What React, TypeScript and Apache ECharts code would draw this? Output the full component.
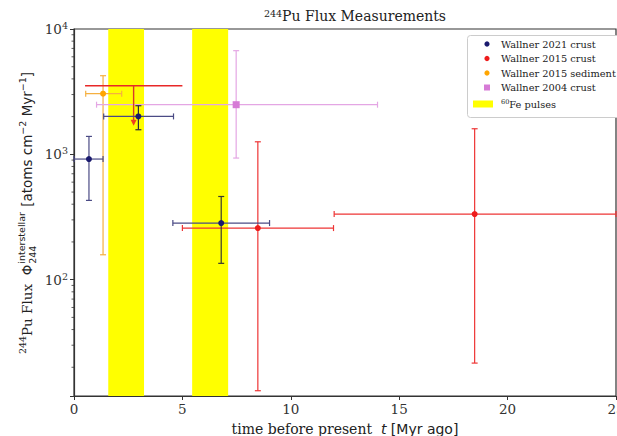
import React, { useEffect, useRef } from 'react';
import * as echarts from 'echarts';

// ---- data ----
const xTickValues = [0, 5, 10, 15, 20, 25];
const yTickExponents = [2, 3, 4];
const minorTickValues = [20, 30, 40, 50, 60, 70, 80, 90, 200, 300, 400, 500, 600, 700, 800, 900, 2000, 3000, 4000, 5000, 6000, 7000, 8000, 9000];

// Wallner 2021 crust
const w21X = [0.69, 2.97, 6.79];
const w21Y = [917, 2007, 283];
const w21XLo = [0, 1.37, 4.56];
const w21XHi = [1.34, 4.59, 9.02];
const w21YLo = [429, 1571, 135];
const w21YHi = [1390, 2443, 461];

// Wallner 2015 crust
const w15X = [8.48, 18.48];
const w15Y = [258, 334];
const w15XLo = [5.0, 12.0];
const w15XHi = [11.97, 25];
const w15YLo = [13.0, 21.6];
const w15YHi = [1259, 1600];

// Wallner 2015 crust upper limit
const w15LimX = [2.75];
const w15LimY = [3528];
const w15LimXLo = [0.51];
const w15LimXHi = [5.0];
const w15LimArrowTo = [1690];

// Wallner 2015 sediment
const w15sX = [1.34];
const w15sY = [3048];
const w15sXLo = [0.54];
const w15sXHi = [2.2];
const w15sYLo = [158];
const w15sYHi = [4240];

// Wallner 2004 crust
const w04X = [7.48];
const w04Y = [2489];
const w04XLo = [1.04];
const w04XHi = [14.0];
const w04YLo = [934];
const w04YHi = [6714];

// 60Fe pulses
const pulseStart = [1.58, 5.45];
const pulseEnd = [3.23, 7.11];

const legendNames = ['Wallner 2021 crust', 'Wallner 2015 crust', 'Wallner 2015 sediment', 'Wallner 2004 crust'];

const SERIF = 'DejaVu Serif';
const SANS = 'DejaVu Sans';

function ln(x1: number, y1: number, x2: number, y2: number, stroke: string, w = 1.2) {
  return { type: 'line', shape: { x1, y1, x2, y2 }, style: { stroke, lineWidth: w } };
}

function errorSeries(name: string, xs: number[], ys: number[], xlo: number[], xhi: number[], ylo: number[], yhi: number[], st: any) {
  const data = xs.map((x, i) => [x, ys[i], xlo[i], xhi[i], ylo[i], yhi[i]]);
  return {
    type: 'custom',
    name,
    data,
    z: 5,
    encode: { x: 0, y: 1 },
    renderItem: (params: any, api: any) => {
      const x = api.value(0), y = api.value(1);
      const c = api.coord([x, y]);
      const l = api.coord([api.value(2), y]);
      const r = api.coord([api.value(3), y]);
      const t = api.coord([x, api.value(5)]);
      const b = api.coord([x, api.value(4)]);
      const cap = 3;
      const yc = st.yColors ? st.yColors[params.dataIndex] : st.yColor;
      const children: any[] = [
        ln(l[0], c[1], r[0], c[1], st.xColor),
        ln(l[0], c[1] - cap, l[0], c[1] + cap, st.xColor),
        ln(r[0], c[1] - cap, r[0], c[1] + cap, st.xColor),
        ln(c[0], t[1], c[0], b[1], yc),
        ln(c[0] - cap, t[1], c[0] + cap, t[1], yc),
        ln(c[0] - cap, b[1], c[0] + cap, b[1], yc),
      ];
      if (st.square) {
        children.push({ type: 'rect', shape: { x: c[0] - 3.5, y: c[1] - 3.5, width: 7, height: 7 }, style: { fill: st.marker } });
      } else {
        children.push({ type: 'circle', shape: { cx: c[0], cy: c[1], r: 3 }, style: { fill: st.marker } });
      }
      return { type: 'group', children };
    },
  };
}

function measure(text: string, font: string) {
  const cv = document.createElement('canvas');
  const ctx = cv.getContext('2d')!;
  ctx.font = font;
  return ctx.measureText(text).width;
}

function buildYLabel(cx: number, cy: number) {
  type P = { text: string; size: number; fam: string; dy: number; stack?: { text: string; dy: number }[] };
  const pieces: P[] = [
    { text: '244', size: 9.5, fam: SERIF, dy: -5 },
    { text: 'Pu Flux  ', size: 13.5, fam: SERIF, dy: 0 },
    { text: 'Φ', size: 13.5, fam: SANS, dy: 0 },
    { text: '', size: 9.5, fam: SANS, dy: 0, stack: [{ text: 'interstellar', dy: -6 }, { text: '244', dy: 5 }] },
    { text: ' [atoms cm', size: 13.5, fam: SANS, dy: 0 },
    { text: '−2', size: 9.5, fam: SANS, dy: -5 },
    { text: ' Myr', size: 13.5, fam: SANS, dy: 0 },
    { text: '−1', size: 9.5, fam: SANS, dy: -5 },
    { text: ']', size: 13.5, fam: SANS, dy: 0 },
  ];
  const widths = pieces.map((p) => {
    const font = `${p.size}px "${p.fam}"`;
    if (p.stack) return Math.max(...p.stack.map((s) => measure(s.text, font))) + 2;
    return measure(p.text, font);
  });
  const total = widths.reduce((a, b) => a + b, 0);
  let x = -total / 2;
  const children: any[] = [];
  pieces.forEach((p, i) => {
    if (p.stack) {
      p.stack.forEach((s) => {
        children.push({ type: 'text', x: x + 1, y: s.dy, style: { text: s.text, fontSize: p.size, fontFamily: p.fam, fill: '#222', verticalAlign: 'middle' } });
      });
    } else {
      children.push({ type: 'text', x, y: p.dy, style: { text: p.text, fontSize: p.size, fontFamily: p.fam, fill: '#222', verticalAlign: 'middle' } });
    }
    x += widths[i];
  });
  return { type: 'group', x: cx, y: cy, rotation: Math.PI / 2, children };
}

export default function App() {
  const ref = useRef<HTMLDivElement>(null);
  useEffect(() => {
    if (!ref.current) return;
    const chart = echarts.init(ref.current, undefined, { renderer: 'svg' });

    const legendRows = [44, 58.5, 73, 87.5, 104];
    const legendColors = ['#1a1a6e', '#ee1c1c', '#ffa500', '#d67bd6'];
    const legendGraphic: any[] = [
      { type: 'rect', shape: { x: 467.5, y: 35.5, width: 160, height: 82, r: 3 }, style: { fill: '#fff', stroke: '#cccccc', lineWidth: 1 }, z: 100 },
    ];
    legendNames.forEach((n, i) => {
      if (i === 3) {
        legendGraphic.push({ type: 'rect', shape: { x: 484, y: legendRows[i] - 3, width: 6, height: 6 }, style: { fill: legendColors[i] }, z: 101 });
      } else {
        legendGraphic.push({ type: 'circle', shape: { cx: 487, cy: legendRows[i], r: 2.6 }, style: { fill: legendColors[i] }, z: 101 });
      }
      legendGraphic.push({ type: 'text', x: 501, y: legendRows[i], style: { text: n, fontSize: 9.8, fontFamily: SERIF, fill: '#222', verticalAlign: 'middle' }, z: 101 });
    });
    legendGraphic.push({ type: 'rect', shape: { x: 473, y: legendRows[4] - 3.5, width: 20, height: 7 }, style: { fill: '#ffff00' }, z: 101 });
    legendGraphic.push({
      type: 'text', x: 501, y: legendRows[4],
      style: {
        text: '{s|60}{n|Fe pulses}', verticalAlign: 'middle', fill: '#222',
        rich: { s: { fontSize: 6.5, fontFamily: SERIF, verticalAlign: 'top', padding: [0, 0, 5, 0] }, n: { fontSize: 9.8, fontFamily: SERIF } },
      },
      z: 101,
    });

    const option: any = {
      animation: false,
      backgroundColor: '#fff',
      title: {
        text: '{s|244}{m|Pu Flux Measurements}',
        left: 350,
        top: 3,
        textAlign: 'center',
        textStyle: {
          fontWeight: 'normal',
          rich: {
            s: { fontSize: 9.5, fontFamily: SERIF, fontWeight: 'normal', color: '#222', padding: [0, 0, 6, 0] },
            m: { fontSize: 14, fontFamily: SERIF, fontWeight: 'normal', color: '#222' },
          },
        },
      },
      grid: { left: 74, top: 29, width: 542, height: 367, show: true, borderColor: '#333', borderWidth: 1.2, backgroundColor: 'transparent', outerBoundsMode: 'none', containLabel: false },
      xAxis: {
        type: 'value', min: xTickValues[0], max: xTickValues[xTickValues.length - 1], interval: 5,
        axisLine: { lineStyle: { color: '#333', width: 1.2 } },
        axisTick: { show: true, length: 4, lineStyle: { color: '#333' } },
        axisLabel: { fontFamily: SERIF, fontSize: 13.5, color: '#333', margin: 6 },
        splitLine: { show: false },
        name: '{a|time before present  }{i|t}{b| [Myr ago]}',
        nameLocation: 'middle', nameGap: 21,
        nameTextStyle: {
          verticalAlign: 'top',
          lineHeight: 16,
          rich: {
            a: { fontFamily: SERIF, fontSize: 14, color: '#222', lineHeight: 16 },
            i: { fontFamily: SANS, fontSize: 14, fontStyle: 'italic', color: '#222', lineHeight: 16 },
            b: { fontFamily: SANS, fontSize: 14, color: '#222', lineHeight: 16 },
          },
        },
      },
      yAxis: {
        type: 'log', logBase: 10, min: 11.8, max: Math.pow(10, yTickExponents[yTickExponents.length - 1]),
        axisLine: { show: true, lineStyle: { color: '#333', width: 1.2 } },
        axisTick: { show: true, length: 4, lineStyle: { color: '#333' } },
        axisLabel: {
          margin: 6,
          formatter: (v: number) => {
            const e = Math.round(Math.log10(v));
            if (Math.abs(Math.log10(v) - e) > 1e-6 || !yTickExponents.includes(e)) return '';
            return `{b|10}{e|${e}}`;
          },
          rich: {
            b: { fontFamily: SERIF, fontSize: 13.5, color: '#333' },
            e: { fontFamily: SERIF, fontSize: 9.5, color: '#333', padding: [0, 0, 7, 0] },
          },
        },
        splitLine: { show: false },
      },
      graphic: [buildYLabel(27, 213), ...legendGraphic],
      series: [
        {
          type: 'custom', name: '60Fe pulses', z: 1,
          data: pulseStart.map((s, i) => [s, 1000, pulseEnd[i]]),
          renderItem: (params: any, api: any) => {
            const cs = params.coordSys;
            const a = api.coord([api.value(0), api.value(1)]);
            const b = api.coord([api.value(2), api.value(1)]);
            return { type: 'rect', shape: { x: a[0], y: cs.y, width: b[0] - a[0], height: cs.height }, style: { fill: '#ffff00' } };
          },
        },
        {
          type: 'custom', name: 'minor ticks', z: 6,
          data: minorTickValues.map((v) => [xTickValues[0], v]),
          renderItem: (params: any, api: any) => {
            const p = api.coord([api.value(0), api.value(1)]);
            return { type: 'line', shape: { x1: p[0] - 2.5, y1: p[1], x2: p[0], y2: p[1] }, style: { stroke: '#333', lineWidth: 0.8 } };
          },
        },
        errorSeries(legendNames[2], w15sX, w15sY, w15sXLo, w15sXHi, w15sYLo, w15sYHi, { xColor: '#f5b040', yColor: '#f5b040', marker: '#ffa500' }),
        errorSeries(legendNames[3], w04X, w04Y, w04XLo, w04XHi, w04YLo, w04YHi, { xColor: '#e4a6e4', yColor: '#e4a6e4', marker: '#d67bd6', square: true }),
        {
          type: 'custom', name: legendNames[1] + ' limit', z: 5,
          data: w15LimX.map((x, i) => [x, w15LimY[i], w15LimXLo[i], w15LimXHi[i], w15LimArrowTo[i]]),
          renderItem: (params: any, api: any) => {
            const x = api.value(0), y = api.value(1);
            const c = api.coord([x, y]);
            const l = api.coord([api.value(2), y]);
            const r = api.coord([api.value(3), y]);
            const b = api.coord([x, api.value(4)]);
            return {
              type: 'group',
              children: [
                ln(l[0], c[1], r[0], c[1], '#e82828', 1.4),
                ln(c[0], c[1], c[0], b[1] - 4, '#d83a2a', 1.4),
                { type: 'polygon', shape: { points: [[c[0] - 3, b[1] - 6], [c[0] + 3, b[1] - 6], [c[0], b[1]]] }, style: { fill: '#f04020' } },
              ],
            };
          },
        },
        errorSeries(legendNames[1], w15X, w15Y, w15XLo, w15XHi, w15YLo, w15YHi, { xColor: '#ee3535', yColor: '#ee3535', marker: '#ee1c1c' }),
        errorSeries(legendNames[0], w21X, w21Y, w21XLo, w21XHi, w21YLo, w21YHi, { xColor: '#4b4b85', yColors: ['#4b4b85', '#2a2a3a', '#3a3a30'], marker: '#1a1a6e' }),
      ],
    };
    chart.setOption(option);
    return () => chart.dispose();
  }, []);
  return <div ref={ref} style={{ position: 'fixed', left: 0, top: 0, width: 617, height: 436 }} />;
}
